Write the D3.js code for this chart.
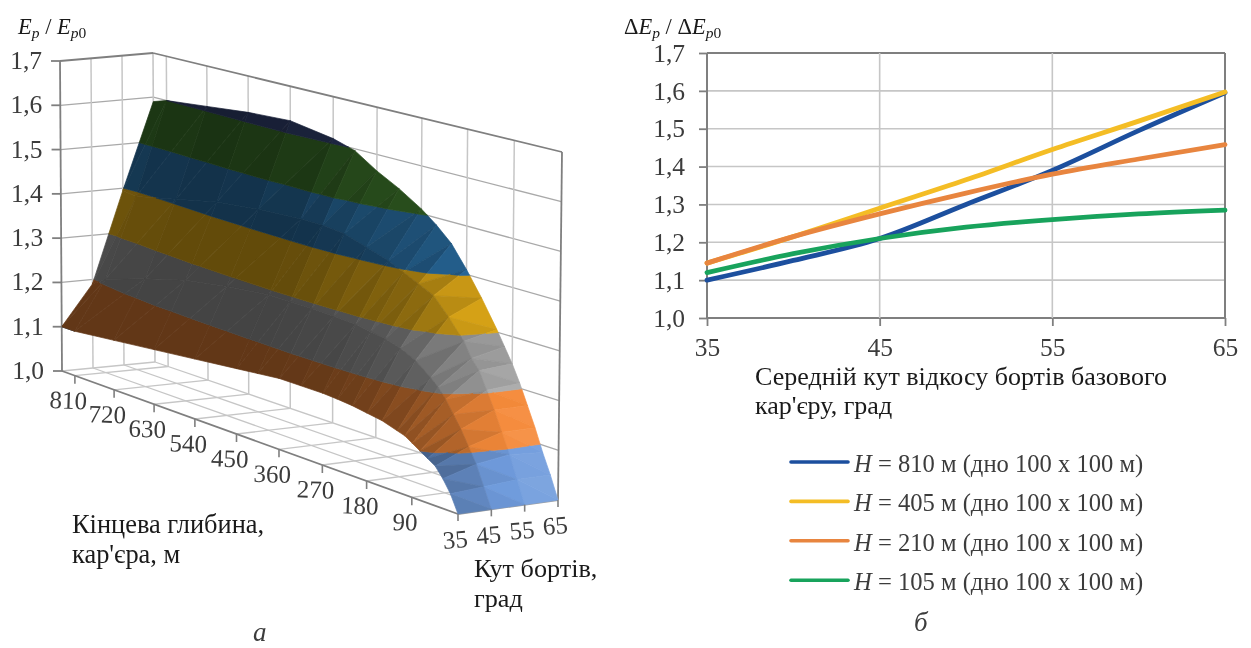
<!DOCTYPE html>
<html><head><meta charset="utf-8">
<script src="https://cdnjs.cloudflare.com/ajax/libs/d3/7.8.5/d3.min.js"></script>
<style>
html,body{margin:0;padding:0;background:#fff}
svg{display:block;filter:blur(0.4px)}
text{font-family:"Liberation Serif",serif}
</style></head><body>
<svg id="c" width="1251" height="648"></svg>
<script>
// ---------- data : left 3-D surface ----------
const angles = [35,45,55,65];
const depths = [840,810,720,630,540,450,405,360,315,270,240,210,180,150,120,105,90,75,60,45,30,15,0];
const E35 = [1.10,1.10,1.11,1.12,1.13,1.14,1.145,1.15,1.15,1.15,1.148,1.145,1.14,1.135,1.125,1.12,1.11,1.10,1.09,1.08,1.06,1.035,1.00];
const E45 = [1.19,1.21,1.24,1.265,1.28,1.29,1.29,1.29,1.288,1.285,1.28,1.275,1.265,1.25,1.225,1.21,1.19,1.165,1.14,1.11,1.08,1.04,1.00];
const E55 = [1.395,1.39,1.41,1.43,1.44,1.445,1.445,1.44,1.425,1.41,1.395,1.38,1.365,1.33,1.29,1.26,1.24,1.205,1.17,1.13,1.09,1.045,1.00];
const E65 = [1.59,1.60,1.61,1.62,1.625,1.61,1.596,1.565,1.54,1.51,1.485,1.455,1.41,1.36,1.305,1.275,1.245,1.21,1.17,1.13,1.085,1.045,1.00];
const surface = [E35,E45,E55,E65];
const levels = [1.0,1.1,1.2,1.3,1.4,1.5,1.6,1.7];
const bandColors = ["#6f9bdc","#f58a3a","#ababab","#f7bb1a","#2f7db9","#42802f","#3a4a80"];
const zTicks = [1.0,1.1,1.2,1.3,1.4,1.5,1.6,1.7];
const depthTicks = [810,720,630,540,450,360,270,180,90];
// ---------- data : right line chart ----------
const xAngles = [35,40,45,50,55,60,65];
const H810 = [1.10,1.152,1.21,1.30,1.39,1.495,1.595];
const H405 = [1.145,1.215,1.29,1.365,1.445,1.52,1.597];
const H210 = [1.145,1.215,1.275,1.33,1.38,1.42,1.458];
const H105 = [1.12,1.17,1.21,1.24,1.26,1.275,1.285];
const seriesNames = ["810","405","210","105"];
const seriesVals = [H810,H405,H210,H105];
const seriesCols = ["#1c4f9e","#f4bd25","#e8853f","#18a35c"];
const yTicks = [1.0,1.1,1.2,1.3,1.4,1.5,1.6,1.7];
const xTicks = [35,45,55,65];

const svg = d3.select("#c");
const comma = d => d.toFixed(1).replace(".",",");
const ink = "#3c3c3c", dark="#1a1a1a";

// ---------- projection of the 3-D box ----------
const corner = {
  A:[62,371], D:[155,362], B:[458,514], C:[558,500],
  At:[60,61], Dt:[153,53], Bt:[462,166], Ct:[562,152]
};
const aScale = d3.scaleLinear().domain([35,65]).range([0,1]);
const uScale = d3.scaleLinear().domain([840,0]).range([0,1]);
const tScale = d => { const u=uScale(d); return u/(u+1.1*(1-u)); };
const zScale = d3.scaleLinear().domain([1.0,1.7]).range([0,1]);
const mix = (p,q,f)=>[p[0]+(q[0]-p[0])*f,p[1]+(q[1]-p[1])*f];
function proj(angle,depth,e){
  const a=aScale(angle), t=tScale(depth), z=zScale(e);
  const lo = mix(mix(corner.A,corner.B,t),mix(corner.D,corner.C,t),a);
  const hi = mix(mix(corner.At,corner.Bt,t),mix(corner.Dt,corner.Ct,t),a);
  return mix(lo,hi,z);
}
const L3 = svg.append("g");
function seg(p,q,col,w){
  L3.append("line").attr("x1",p[0]).attr("y1",p[1]).attr("x2",q[0]).attr("y2",q[1])
    .attr("stroke",col).attr("stroke-width",w);
}
const gridCol="#c6c6c6", lvlCol="#a9a9a9", frameCol="#7f7f7f";
// wall / floor grid
zTicks.slice(1,-1).forEach(z=>{
  seg(proj(35,840,z),proj(65,840,z),lvlCol,1.3);
  seg(proj(65,840,z),proj(65,0,z),lvlCol,1.3);
});
[45,55].forEach(a=>{
  seg(proj(a,840,1),proj(a,840,1.7),gridCol,1.5);
  seg(proj(a,840,1),proj(a,0,1),gridCol,1.3);
});
depthTicks.forEach(d=>{
  seg(proj(65,d,1),proj(65,d,1.7),gridCol,1.5);
  seg(proj(35,d,1),proj(65,d,1),gridCol,1.3);
});
seg(proj(65,840,1),proj(65,840,1.7),gridCol,1.6);
seg(proj(35,840,1),proj(65,840,1),gridCol,1.3);
seg(proj(65,840,1),proj(65,0,1),gridCol,1.3);
// frame
seg(proj(35,840,1.7),proj(65,840,1.7),frameCol,1.8);
seg(proj(65,840,1.7),proj(65,0,1.7),frameCol,1.8);
seg(proj(35,840,1),proj(35,840,1.7),frameCol,1.8);
seg(proj(65,0,1),proj(65,0,1.7),frameCol,1.8);
seg(proj(35,840,1),proj(35,0,1),frameCol,1.8);
seg(proj(35,0,1),proj(65,0,1),"#a0a0a0",1.8);

// ---------- surface ----------
function clip(poly,level,above){
  const out=[]; 
  const inside=v=>above? v.e>=level : v.e<=level;
  poly.forEach((v,i)=>{
    const w=poly[(i+1)%poly.length];
    const vi=inside(v), wi=inside(w);
    if(vi) out.push(v);
    if(vi!==wi){
      const f=(level-v.e)/(w.e-v.e);
      out.push({a:v.a+(w.a-v.a)*f,d:v.d+(w.d-v.d)*f,e:level});
    }
  });
  return out;
}
function shade(hex,f){
  const c=d3.rgb(hex);
  if(f<=1) return d3.rgb(c.r*f,c.g*f,c.b*f).formatHex();
  const k=Math.min(f-1,1);
  return d3.rgb(c.r+(255-c.r)*k,c.g+(255-c.g)*k,c.b+(255-c.b)*k).formatHex();
}
// slope of each column along the depth direction, lightly smoothed between rows
const rawSlope = surface.map(col=>d3.range(depths.length-1).map(i=>
  Math.max(0,-(col[i+1]-col[i])/(tScale(depths[i+1])-tScale(depths[i])))));
const slope = rawSlope.map(col=>col.map((v,i)=>{
  const p=col[Math.max(i-1,0)], n=col[Math.min(i+1,col.length-1)];
  return 0.25*p+0.5*v+0.25*n;
}));
function shadeAt(i,j,w){
  const s=slope[j][i]*(1-w)+slope[j+1][i]*w;
  const ac=(j+w)/3;
  return Math.min(1.12,0.40+0.42*Math.pow(Math.min(s,3),0.8)*(0.6+0.3*ac));
}
const gS=svg.append("g");
for(let i=0;i<depths.length-1;i++){
  for(let j=angles.length-2;j>=0;j--){
    const v=(r,c)=>({a:angles[c],d:depths[r],e:surface[c][r]});
    const p00=v(i,j),p01=v(i,j+1),p10=v(i+1,j),p11=v(i+1,j+1);
    const tris=[[[p01,p00,p11],2/3],[[p00,p10,p11],1/3]];
    tris.forEach(([tri,w])=>{
      const f=shadeAt(i,j,w);
      for(let b=0;b<bandColors.length;b++){
        let poly=clip(tri,levels[b],true);
        if(poly.length) poly=clip(poly,levels[b+1],false);
        if(poly.length<3) continue;
        const col=shade(bandColors[b],f);
        gS.append("polygon")
          .attr("points",poly.map(n=>proj(n.a,n.d,n.e).join(",")).join(" "))
          .attr("fill",col).attr("stroke",col).attr("stroke-width",0.7);
      }
    });
  }
}

// ---------- 3-D axes labels ----------
const L4=svg.append("g");
zTicks.forEach(z=>{
  const p=proj(35,840,z);
  L4.append("line").attr("x1",p[0]-9).attr("x2",p[0]).attr("y1",p[1]).attr("y2",p[1]).attr("stroke",frameCol).attr("stroke-width",1.8);
  svg.append("text").attr("x",p[0]-18).attr("y",p[1]+8).attr("text-anchor","end")
    .attr("font-size",25.5).attr("fill",ink).text(comma(z));
});
depthTicks.forEach(d=>{
  const p=proj(35,d,1);
  L4.append("line").attr("x1",p[0]).attr("x2",p[0]).attr("y1",p[1]).attr("y2",p[1]+8).attr("stroke",frameCol).attr("stroke-width",1.6);
  svg.append("text").attr("text-anchor","middle").attr("font-size",25).attr("fill",ink)
    .attr("transform",`translate(${p[0]-7},${p[1]+33}) rotate(2)`).text(d);
});
angles.forEach(a=>{
  const p=proj(a,0,1);
  L4.append("line").attr("x1",p[0]).attr("x2",p[0]).attr("y1",p[1]).attr("y2",p[1]+7).attr("stroke",frameCol).attr("stroke-width",1.6);
  svg.append("text").attr("text-anchor","middle").attr("font-size",25).attr("fill",ink)
    .attr("transform",`translate(${p[0]-2},${p[1]+34}) rotate(-5)`).text(a);
});

// ---------- right chart with d3 axes ----------
const x=d3.scaleLinear().domain([35,65]).range([707,1225]);
const y=d3.scaleLinear().domain([1.0,1.7]).range([318,53]);
const gx=svg.append("g").attr("transform","translate(0,318)")
  .call(d3.axisBottom(x).tickValues(xTicks).tickSize(8).tickPadding(12).tickFormat(d=>d));
const gy=svg.append("g").attr("transform","translate(707,0)")
  .call(d3.axisLeft(y).tickValues(yTicks).tickSize(8).tickPadding(14).tickFormat(comma));
[gx,gy].forEach(g=>{
  g.select(".domain").remove();
  g.selectAll("line").attr("stroke",frameCol).attr("stroke-width",1.8);
  g.selectAll("text").attr("font-size",25.5).attr("fill",ink).attr("font-family","Liberation Serif");
});
svg.append("g").selectAll("line").data(yTicks).join("line")
  .attr("x1",707).attr("x2",1225).attr("y1",y).attr("y2",y)
  .attr("stroke",d=>(d===1||d===1.7)?frameCol:gridCol).attr("stroke-width",d=>(d===1||d===1.7)?2:1.6);
svg.append("g").selectAll("line").data(xTicks).join("line")
  .attr("y1",53).attr("y2",318).attr("x1",x).attr("x2",x)
  .attr("stroke",d=>(d===35||d===65)?frameCol:gridCol).attr("stroke-width",d=>(d===35||d===65)?2:1.6);
const line=d3.line().x((d,i)=>x(xAngles[i])).y(d=>y(d)).curve(d3.curveMonotoneX);
svg.append("g").selectAll("path").data(seriesVals).join("path")
  .attr("d",line).attr("fill","none").attr("stroke",(d,i)=>seriesCols[i])
  .attr("stroke-width",4.8).attr("stroke-linecap","round");

// ---------- legend ----------
const leg=svg.append("g");
seriesNames.forEach((n,i)=>{
  const yy=462+i*39.4;
  leg.append("line").attr("x1",791).attr("x2",848).attr("y1",yy).attr("y2",yy)
    .attr("stroke",seriesCols[i]).attr("stroke-width",3.6).attr("stroke-linecap","round");
  const t=leg.append("text").attr("x",854).attr("y",yy+10).attr("font-size",24.6).attr("fill",ink);
  t.append("tspan").attr("font-style","italic").text("H");
  t.append("tspan").text(` = ${n} м (дно 100 х 100 м)`);
});

// ---------- text ----------
function label(xp,yp,str,size,col,italic){
  const t=svg.append("text").attr("x",xp).attr("y",yp).attr("font-size",size).attr("fill",col||dark).text(str);
  if(italic) t.attr("font-style","italic");
  return t;
}
label(72,533,"Кінцева глибина,",26.4);
label(72,563,"кар'єра, м",26.4);
label(474,577,"Кут бортів,",26.2);
label(474,607,"град",26.2);
label(755,385,"Середній кут відкосу бортів базового",26);
label(755,414,"кар'єру, град",26);
label(253,641,"а",27,ink,true);
label(914,631,"б",27,ink,true);
function ratio(xp,pre){
  const t=svg.append("text").attr("x",xp).attr("y",34).attr("font-size",22.5).attr("fill",dark).attr("font-style","italic");
  if(pre) t.append("tspan").attr("font-style","normal").text("Δ");
  t.append("tspan").text("E");
  t.append("tspan").attr("font-size",15.5).attr("dy",4).text("p");
  t.append("tspan").attr("dy",-4).attr("font-style","normal").text(" / ");
  if(pre) t.append("tspan").attr("font-style","normal").text("Δ");
  t.append("tspan").text("E");
  t.append("tspan").attr("font-size",15.5).attr("dy",4).text("p");
  t.append("tspan").attr("font-size",15.5).attr("font-style","normal").text("0");
}
ratio(18,false);
ratio(624,true);
</script>
</body></html>
